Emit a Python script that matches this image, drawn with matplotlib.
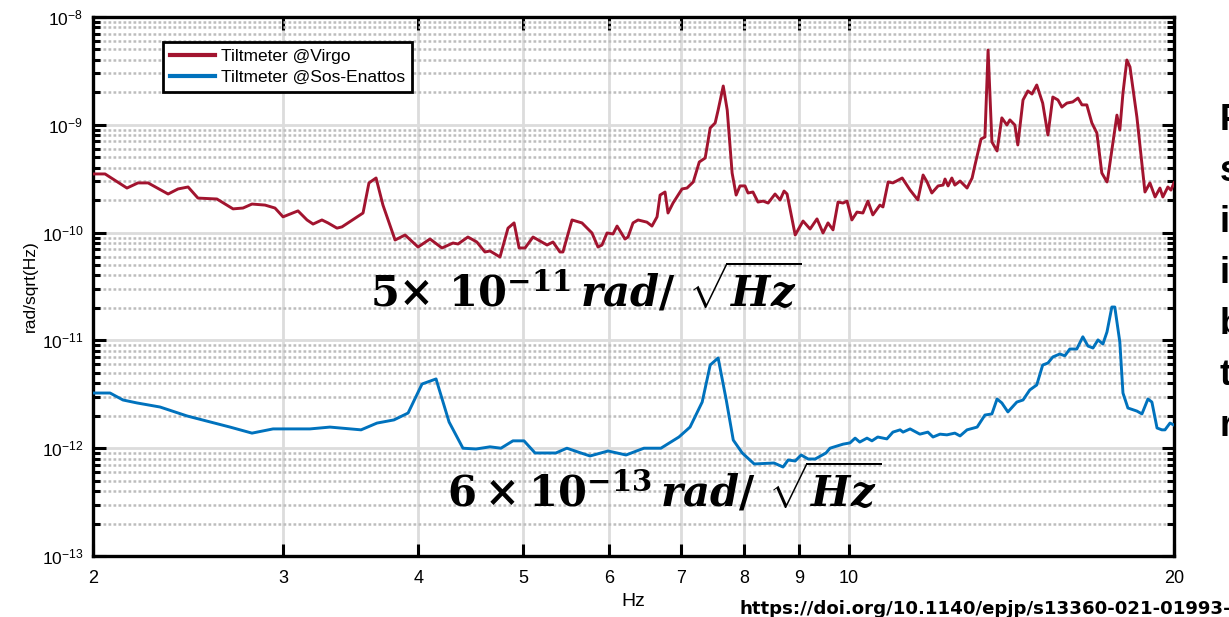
import matplotlib
matplotlib.use('Agg')
import matplotlib.pyplot as plt
from matplotlib.ticker import FuncFormatter, LogLocator, NullLocator, FixedLocator
import numpy as np

plt.rcParams['font.family'] = ['Liberation Sans', 'DejaVu Sans']
plt.rcParams['mathtext.fontset'] = 'custom'
plt.rcParams['mathtext.rm'] = 'DejaVu Serif:bold'
plt.rcParams['mathtext.it'] = 'DejaVu Serif:italic:bold'
plt.rcParams['mathtext.bf'] = 'DejaVu Serif:bold'

# Tiltmeter @Virgo  (Hz, rad/sqrt(Hz))
freq_virgo = [2.000, 2.052, 2.150, 2.201, 2.249, 2.347, 2.397, 2.449, 2.501, 2.604,
              2.695, 2.753, 2.806, 2.885, 2.947, 2.998, 3.095, 3.155, 3.196, 3.257,
              3.299, 3.363, 3.399, 3.510, 3.555, 3.600, 3.655, 3.709, 3.806, 3.888,
              3.997, 4.100, 4.206, 4.306, 4.352, 4.445, 4.530, 4.609, 4.659, 4.759,
              4.841, 4.904, 4.957, 5.020, 5.106, 5.261, 5.328, 5.407, 5.442, 5.548,
              5.667, 5.789, 5.864, 5.914, 5.978, 6.055, 6.107, 6.211, 6.251, 6.318,
              6.386, 6.508, 6.578, 6.650, 6.693, 6.764, 6.807, 6.880, 7.013, 7.088,
              7.183, 7.276, 7.368, 7.447, 7.526, 7.574, 7.657, 7.722, 7.803, 7.870,
              7.935, 8.020, 8.072, 8.157, 8.245, 8.336, 8.425, 8.550, 8.642, 8.716,
              8.772, 8.925, 9.076, 9.213, 9.349, 9.470, 9.571, 9.674, 9.778, 9.882,
              9.967, 10.07, 10.18, 10.31, 10.42, 10.53, 10.69, 10.76, 10.88, 10.99,
              11.21, 11.40, 11.59, 11.72, 11.82, 11.94, 12.10, 12.23, 12.28, 12.36,
              12.46, 12.54, 12.68, 12.87, 13.01, 13.09, 13.26, 13.37, 13.46, 13.57,
              13.72, 13.86, 14.01, 14.10, 14.25, 14.34, 14.50, 14.65, 14.78, 14.93,
              15.12, 15.29, 15.45, 15.62, 15.75, 15.92, 16.12, 16.30, 16.44, 16.61,
              16.79, 16.97, 17.15, 17.34, 17.37, 17.71, 17.82, 17.94, 18.09, 18.21,
              18.48, 18.80, 19.00, 19.21, 19.41, 19.53, 19.74, 19.87, 20.00]
asd_virgo = [3.50e-10, 3.50e-10, 2.59e-10, 2.89e-10, 2.89e-10, 2.28e-10, 2.54e-10, 2.65e-10, 2.09e-10, 2.05e-10,
             1.66e-10, 1.69e-10, 1.84e-10, 1.80e-10, 1.69e-10, 1.40e-10, 1.59e-10, 1.31e-10, 1.20e-10, 1.31e-10,
             1.23e-10, 1.10e-10, 1.13e-10, 1.40e-10, 1.52e-10, 2.89e-10, 3.21e-10, 1.80e-10, 8.54e-11, 9.50e-11,
             7.35e-11, 8.72e-11, 7.20e-11, 8.01e-11, 7.84e-11, 9.10e-11, 8.18e-11, 6.61e-11, 6.75e-11, 5.94e-11,
             1.10e-10, 1.23e-10, 7.20e-11, 7.20e-11, 9.10e-11, 7.67e-11, 8.18e-11, 6.61e-11, 6.61e-11, 1.31e-10,
             1.23e-10, 9.92e-11, 7.35e-11, 7.67e-11, 9.92e-11, 9.71e-11, 1.15e-10, 8.72e-11, 9.10e-11, 1.23e-10,
             1.31e-10, 1.25e-10, 1.15e-10, 1.40e-10, 2.23e-10, 2.38e-10, 1.52e-10, 1.88e-10, 2.54e-10, 2.59e-10,
             2.95e-10, 4.52e-10, 4.92e-10, 9.34e-10, 1.04e-9, 1.37e-9, 2.29e-9, 1.37e-9, 3.57e-10, 2.23e-10,
             2.71e-10, 2.71e-10, 2.33e-10, 2.38e-10, 1.92e-10, 1.96e-10, 1.88e-10, 2.28e-10, 2.01e-10, 2.43e-10,
             2.28e-10, 9.50e-11, 1.28e-10, 1.08e-10, 1.34e-10, 9.92e-11, 1.23e-10, 1.06e-10, 1.92e-10, 1.88e-10,
             1.96e-10, 1.31e-10, 1.55e-10, 1.52e-10, 1.96e-10, 1.46e-10, 1.80e-10, 1.73e-10, 2.95e-10, 2.89e-10,
             3.21e-10, 2.48e-10, 2.01e-10, 3.42e-10, 2.95e-10, 2.33e-10, 2.71e-10, 2.76e-10, 3.14e-10, 2.71e-10,
             3.21e-10, 2.76e-10, 3.01e-10, 2.59e-10, 3.21e-10, 4.24e-10, 7.38e-10, 7.71e-10, 4.94e-9, 6.93e-10,
             5.72e-10, 1.16e-9, 9.95e-10, 1.11e-9, 9.95e-10, 6.50e-10, 1.70e-9, 2.06e-9, 1.93e-9, 2.34e-9,
             1.59e-9, 8.04e-10, 1.81e-9, 1.70e-9, 1.46e-9, 1.59e-9, 1.63e-9, 1.77e-9, 1.53e-9, 1.53e-9,
             1.04e-9, 8.39e-10, 3.57e-10, 2.95e-10, 3.21e-10, 1.23e-9, 8.95e-10, 1.97e-9, 3.99e-9, 3.44e-9,
             1.18e-9, 2.38e-10, 2.89e-10, 2.14e-10, 2.59e-10, 2.14e-10, 2.65e-10, 2.48e-10, 2.89e-10]

# Tiltmeter @Sos-Enattos
freq_sos = [2.000, 2.074, 2.132, 2.196, 2.307, 2.444, 2.678, 2.806, 2.935, 3.062,
            3.175, 3.313, 3.385, 3.540, 3.662, 3.797, 3.913, 4.031, 4.153, 4.270,
            4.398, 4.522, 4.659, 4.769, 4.892, 5.009, 5.128, 5.361, 5.488, 5.619,
            5.765, 5.991, 6.225, 6.467, 6.705, 6.967, 7.134, 7.321, 7.447, 7.574,
            7.706, 7.822, 7.973, 8.179, 8.532, 8.697, 8.792, 8.925, 9.039, 9.175,
            9.313, 9.530, 9.612, 9.882, 10.03, 10.14, 10.24, 10.40, 10.51, 10.64,
            10.85, 10.99, 11.16, 11.23, 11.40, 11.64, 11.84, 11.97, 12.15, 12.33,
            12.54, 12.68, 12.87, 13.15, 13.37, 13.57, 13.72, 13.86, 14.04, 14.31,
            14.50, 14.71, 14.93, 15.12, 15.29, 15.45, 15.68, 15.85, 16.02, 16.26,
            16.47, 16.65, 16.83, 17.01, 17.19, 17.34, 17.52, 17.63, 17.82, 17.94,
            18.13, 18.48, 18.68, 18.92, 19.08, 19.29, 19.49, 19.62, 19.83, 20.00]
asd_sos = [3.25e-12, 3.25e-12, 2.80e-12, 2.63e-12, 2.41e-12, 1.99e-12, 1.57e-12, 1.38e-12, 1.51e-12, 1.51e-12,
           1.51e-12, 1.57e-12, 1.54e-12, 1.48e-12, 1.71e-12, 1.83e-12, 2.12e-12, 3.94e-12, 4.39e-12, 1.75e-12,
           1.00e-12, 9.83e-13, 1.03e-12, 1.00e-12, 1.17e-12, 1.17e-12, 9.03e-13, 9.03e-13, 1.00e-12, 9.22e-13,
           8.47e-13, 9.42e-13, 8.65e-13, 1.00e-12, 1.00e-12, 1.27e-12, 1.57e-12, 2.68e-12, 5.91e-12, 6.87e-12,
           2.80e-12, 1.19e-12, 9.03e-13, 7.14e-13, 7.29e-13, 6.69e-13, 7.77e-13, 7.61e-13, 8.65e-13, 7.94e-13,
           7.94e-13, 9.03e-13, 1.00e-12, 1.09e-12, 1.12e-12, 1.24e-12, 1.14e-12, 1.24e-12, 1.17e-12, 1.27e-12,
           1.22e-12, 1.41e-12, 1.48e-12, 1.41e-12, 1.51e-12, 1.35e-12, 1.41e-12, 1.27e-12, 1.35e-12, 1.33e-12,
           1.38e-12, 1.30e-12, 1.48e-12, 1.57e-12, 2.03e-12, 2.08e-12, 2.86e-12, 2.63e-12, 2.17e-12, 2.68e-12,
           2.80e-12, 3.47e-12, 3.86e-12, 5.91e-12, 6.17e-12, 7.02e-12, 7.48e-12, 7.20e-12, 8.32e-12, 8.32e-12,
           1.08e-11, 8.87e-12, 8.50e-12, 1.01e-11, 9.26e-12, 1.20e-11, 2.04e-11, 2.04e-11, 9.67e-12, 3.25e-12,
           2.36e-12, 2.21e-12, 2.08e-12, 2.86e-12, 2.68e-12, 1.54e-12, 1.48e-12, 1.48e-12, 1.71e-12, 1.64e-12]

x_ticks = [2, 3, 4, 5, 6, 7, 8, 9, 10, 20]
x_ticklabels = ['2', '3', '4', '5', '6', '7', '8', '9', '10', '20']

side_letters = ['F', 's', 'i', 'i', 'b', 't', 'r']
doi_text = 'https://doi.org/10.1140/epjp/s13360-021-01993-'

red = '#A2142F'
blue = '#0072BD'

fig = plt.figure(figsize=(12.29, 6.17), dpi=100)
ax = fig.add_axes([93 / 1229, 61 / 617, 1081 / 1229, 539 / 617])

ax.plot(freq_virgo, asd_virgo, color=red, lw=2.1, label='Tiltmeter @Virgo', zorder=3)
ax.plot(freq_sos, asd_sos, color=blue, lw=2.1, label='Tiltmeter @Sos-Enattos', zorder=3)

ax.set_xscale('log')
ax.set_yscale('log')
ax.set_xlim(2, 20)
ax.set_ylim(1e-13, 1e-8)

ax.xaxis.set_major_locator(FixedLocator(x_ticks))
ax.xaxis.set_minor_locator(NullLocator())
ax.set_xticklabels(x_ticklabels)
ax.yaxis.set_major_locator(LogLocator(base=10, numticks=10))
ax.yaxis.set_minor_locator(LogLocator(base=10, subs=np.arange(2, 10), numticks=20))
ax.yaxis.set_major_formatter(FuncFormatter(lambda v, p: r'$\mathregular{10^{%d}}$' % round(np.log10(v))))

ax.set_axisbelow(True)
ax.grid(which='major', color='#dcdcdc', lw=2.0, ls='-')
ax.grid(which='minor', axis='y', color='#bdbdbd', lw=1.8, ls=(0, (1.1, 0.9)))

ax.tick_params(which='both', direction='in', top=True, right=True, colors='black', width=2.2)
ax.tick_params(which='major', length=9)
ax.tick_params(which='minor', length=5)
ax.tick_params(axis='x', labelsize=13, pad=10)
ax.tick_params(axis='y', labelsize=12.5, pad=7)
for s in ax.spines.values():
    s.set_linewidth(2.4)

ax.set_xlabel('Hz', fontsize=14)
ax.xaxis.set_label_coords(0.5, -0.0835)
ax.xaxis.label.set_va('center')
ax.set_ylabel('rad/sqrt(Hz)', fontsize=12.5)
ax.yaxis.set_label_coords(-0.058, 0.5)
ax.yaxis.label.set_va('center')

leg = ax.legend(loc='upper left', bbox_to_anchor=(0.0648, 0.9536), borderaxespad=0,
                fontsize=12.5, fancybox=False, framealpha=1, edgecolor='black',
                handlelength=2.6, handletextpad=0.35, labelspacing=0.35,
                borderpad=0.4)
leg.get_frame().set_linewidth(2.0)
for line in leg.get_lines():
    line.set_linewidth(3)

ax.text(3.608, 2.05e-11, r'$5{\times}\ 10^{-11}\,rad/\ \sqrt{Hz}$', fontsize=30,
        ha='left', va='baseline', zorder=4)
ax.text(4.251, 2.85e-13, r'$6\times10^{-13}\,rad/\ \sqrt{Hz}$', fontsize=30,
        ha='left', va='baseline', zorder=4)

for i, letter in enumerate(side_letters):
    fig.text(1220 / 1229, 1 - (130 + 51 * i) / 617, letter, fontsize=26,
             fontweight='bold', ha='left', va='baseline')

fig.text(1231 / 1229, 1 - 614 / 617, doi_text, fontsize=13.1, fontweight='bold',
         family='DejaVu Sans', ha='right', va='baseline')

fig.savefig('out.png', dpi=100)
